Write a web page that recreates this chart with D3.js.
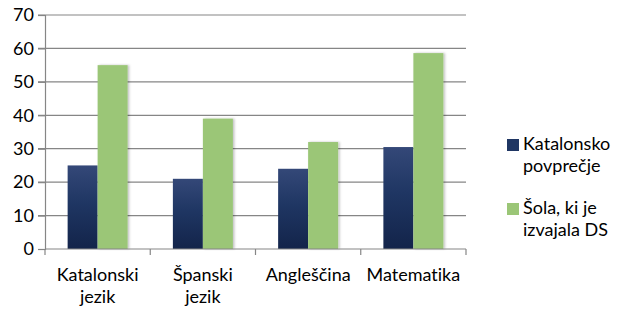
<!DOCTYPE html>
<html>
<head>
<meta charset="utf-8">
<script src="https://cdn.jsdelivr.net/npm/d3@7"></script>
<style>
  body { margin: 0; background: #fff; }
  text { font-family: Lato, "Open Sans", sans-serif; fill: #000; font-variant-ligatures: none; }
</style>
</head>
<body>
<div id="chart"></div>
<script>
// data
const categories = [['Katalonski', 'jezik'], ['Španski', 'jezik'], ['Angleščina'], ['Matematika']];
const seriesNames = [['Katalonsko', 'povprečje'], ['Šola, ki je', 'izvajala DS']];
const catalanAvg = [25, 21, 24, 30.5];
const dsSchool = [55, 39, 32, 58.6];
const yTicks = [0, 10, 20, 30, 40, 50, 60, 70];

const width = 622, height = 310;
const margin = {top: 15, right: 156, bottom: 61, left: 45};
const innerW = width - margin.left - margin.right;
const innerH = height - margin.top - margin.bottom;
const fontSize = 18;

const svg = d3.select('#chart').append('svg')
  .attr('width', width)
  .attr('height', height);

const defs = svg.append('defs');
const grad = defs.append('linearGradient')
  .attr('id', 'darkGrad')
  .attr('x1', 0).attr('y1', 0).attr('x2', 0).attr('y2', 1);
grad.append('stop').attr('offset', '0%').attr('stop-color', '#344878');
grad.append('stop').attr('offset', '45%').attr('stop-color', '#1f3663');
grad.append('stop').attr('offset', '100%').attr('stop-color', '#13244a');

const shadow = defs.append('filter').attr('id', 'shadow')
  .attr('x', '-20%').attr('y', '-5%').attr('width', '140%').attr('height', '110%');
shadow.append('feDropShadow')
  .attr('dx', 1.5).attr('dy', 0).attr('stdDeviation', 1.2)
  .attr('flood-color', '#000').attr('flood-opacity', 0.25);

const g = svg.append('g')
  .attr('transform', `translate(${margin.left},${margin.top})`);

const x0 = d3.scaleBand()
  .domain(d3.range(categories.length))
  .range([0, innerW])
  .paddingInner(0.43)
  .paddingOuter(0.215);

const x1 = d3.scaleBand()
  .domain([0, 1])
  .range([0, x0.bandwidth()]);

const y = d3.scaleLinear()
  .domain([0, 70])
  .range([innerH, 0]);

// gridlines
g.append('g')
  .selectAll('line')
  .data(yTicks.filter(d => d > 0))
  .enter().append('line')
  .attr('x1', -7).attr('x2', innerW)
  .attr('y1', d => y(d)).attr('y2', d => y(d))
  .attr('stroke', '#868686')
  .attr('stroke-width', 1.2);

// y axis
const yAxis = g.append('g')
  .call(d3.axisLeft(y).tickValues(yTicks).tickSize(7).tickPadding(4));
yAxis.select('.domain').attr('stroke', '#868686').attr('stroke-width', 1.2);
yAxis.selectAll('.tick line').attr('stroke', '#868686').attr('stroke-width', 1.2);
yAxis.selectAll('.tick text')
  .style('font-family', 'Lato, "Open Sans", sans-serif')
  .style('font-size', fontSize + 'px').attr('fill', '#000');

// bars
const data = [catalanAvg, dsSchool];
const groups = g.append('g').selectAll('g')
  .data(categories.map((c, i) => i))
  .enter().append('g')
  .attr('transform', i => `translate(${x0(i)},0)`);

groups.selectAll('rect')
  .data(i => data.map((s, k) => ({k, v: s[i]})))
  .enter().append('rect')
  .attr('x', d => x1(d.k))
  .attr('width', x1.bandwidth())
  .attr('y', d => y(d.v))
  .attr('height', d => innerH - y(d.v))
  .attr('fill', d => d.k === 0 ? 'url(#darkGrad)' : '#9bc677')
  .attr('filter', d => d.k === 1 ? 'url(#shadow)' : null);

// x axis line and ticks at band boundaries
const step = x0.step();
const boundaries = d3.range(categories.length + 1).map(i => x0(0) - x0.paddingOuter() * step + i * step);
g.append('line')
  .attr('x1', 0).attr('x2', innerW)
  .attr('y1', innerH).attr('y2', innerH)
  .attr('stroke', '#868686').attr('stroke-width', 1.2);
g.append('g').selectAll('line')
  .data(boundaries)
  .enter().append('line')
  .attr('x1', d => d).attr('x2', d => d)
  .attr('y1', innerH).attr('y2', innerH + 6)
  .attr('stroke', '#868686').attr('stroke-width', 1.2);

// category labels
const xl = g.append('g').selectAll('text')
  .data(categories)
  .enter().append('text')
  .attr('text-anchor', 'middle')
  .attr('font-size', fontSize)
  .attr('transform', (d, i) => `translate(${x0(i) + x0.bandwidth() / 2},${innerH + 32})`);
xl.selectAll('tspan')
  .data(d => d)
  .enter().append('tspan')
  .attr('x', 0)
  .attr('y', (d, j) => j * 22)
  .text(d => d);

// legend
const legendColors = ['#1f3663', '#9bc677'];
const legend = svg.append('g').attr('transform', 'translate(507,136)');
const items = legend.selectAll('g')
  .data(seriesNames)
  .enter().append('g')
  .attr('transform', (d, i) => `translate(0,${i * 64})`);
items.append('rect')
  .attr('x', 0).attr('y', 3)
  .attr('width', 12).attr('height', 12)
  .attr('fill', (d, i) => legendColors[i]);
const lt = items.append('text')
  .attr('font-size', fontSize);
lt.selectAll('tspan')
  .data(d => d)
  .enter().append('tspan')
  .attr('x', 16)
  .attr('y', (d, j) => 14 + j * 22)
  .text(d => d);
</script>
</body>
</html>
